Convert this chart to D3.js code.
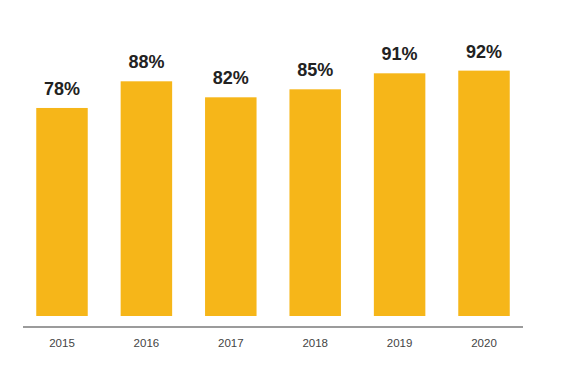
<!DOCTYPE html>
<html>
<head>
<meta charset="utf-8">
<script src="https://cdn.jsdelivr.net/npm/d3@7"></script>
<style>
  html, body { margin: 0; padding: 0; background: #fff; }
  svg { display: block; }
</style>
</head>
<body>
<svg id="chart" width="587" height="380"></svg>
<script>
const years = ["2015", "2016", "2017", "2018", "2019", "2020"];
const values = [78, 88, 82, 85, 91, 92];
const labels = ["78%", "88%", "82%", "85%", "91%", "92%"];

const svg = d3.select("#chart");
const width = 587, height = 380;

const x = d3.scaleBand()
  .domain(years)
  .range([23, 523])
  .paddingInner(0.39)
  .paddingOuter(0.157);

const y = d3.scaleLinear()
  .domain([0, 100])
  .range([316, 49.3]);

const data = years.map((yr, i) => ({ year: yr, value: values[i], label: labels[i] }));

// bars
svg.append("g")
  .selectAll("rect")
  .data(data)
  .join("rect")
  .attr("x", d => x(d.year))
  .attr("y", d => y(d.value))
  .attr("width", x.bandwidth())
  .attr("height", d => y(0) - y(d.value))
  .attr("fill", "#F6B619");

// value labels
svg.append("g")
  .selectAll("text")
  .data(data)
  .join("text")
  .attr("x", d => x(d.year) + x.bandwidth() / 2)
  .attr("y", d => y(d.value) - 13)
  .attr("text-anchor", "middle")
  .attr("font-family", "'Liberation Sans', Arial, sans-serif")
  .attr("font-weight", "bold")
  .attr("font-size", "18px")
  .attr("fill", "#222")
  .text(d => d.label);

// x axis
const axis = d3.axisBottom(x).tickSize(0).tickPadding(0);
const gx = svg.append("g")
  .attr("transform", "translate(0,327)")
  .call(axis);
gx.select(".domain")
  .attr("d", "M23,0H523")
  .attr("stroke", "#7a7a7a")
  .attr("stroke-width", 1.6);
gx.selectAll(".tick text")
  .attr("y", 19.7)
  .attr("dy", null)
  .attr("font-family", "'Liberation Sans', Arial, sans-serif")
  .attr("font-size", "11.5px")
  .attr("fill", "#444");
</script>
</body>
</html>
